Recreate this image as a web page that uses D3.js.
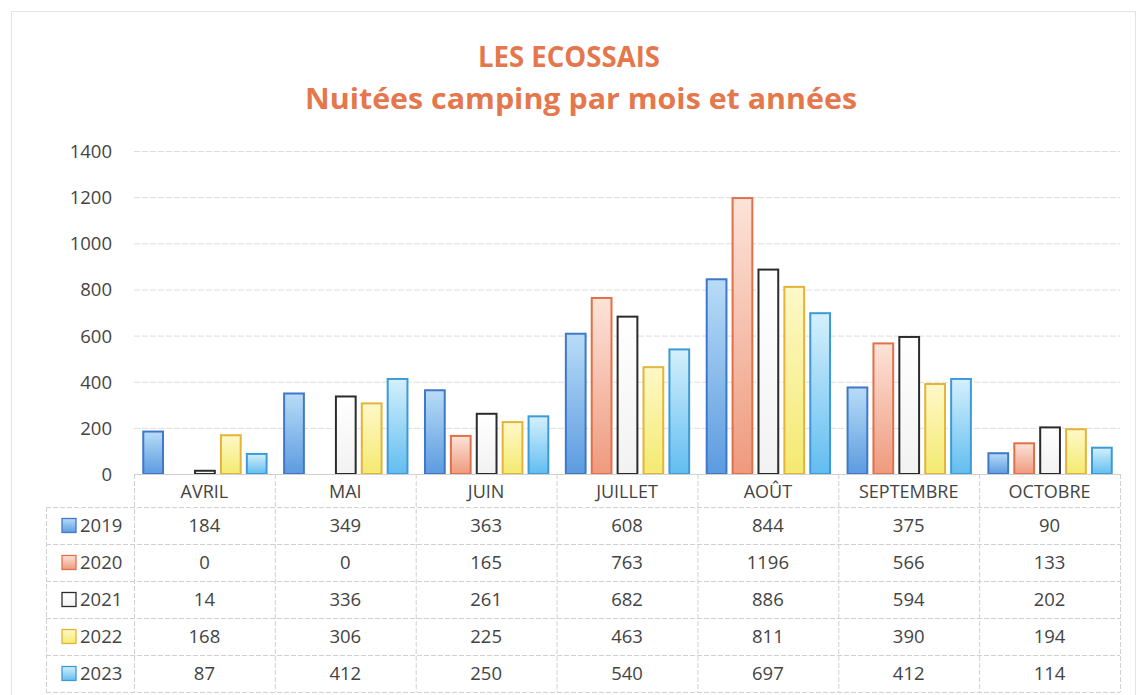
<!DOCTYPE html>
<html><head><meta charset="utf-8">
<script src="https://cdn.jsdelivr.net/npm/d3@7"></script>
<style>
body{margin:0;background:#fff;}
svg{display:block;font-family:"Open Sans","Noto Sans",sans-serif;}
</style></head>
<body><svg id="c" width="1138" height="695"></svg>
<script>
const months = ["AVRIL","MAI","JUIN","JUILLET","AOÛT","SEPTEMBRE","OCTOBRE"];
const years = ["2019","2020","2021","2022","2023"];
const v2019 = [184,349,363,608,844,375,90];
const v2020 = [0,0,165,763,1196,566,133];
const v2021 = [14,336,261,682,886,594,202];
const v2022 = [168,306,225,463,811,390,194];
const v2023 = [87,412,250,540,697,412,114];
const yTicks = [0,200,400,600,800,1000,1200,1400];
const titleLines = ["LES ECOSSAIS","Nuitées camping par mois et années"];

(function(){
const seriesValues = [v2019,v2020,v2021,v2022,v2023];
const styles = [
  {top:"#b8dcf6", bot:"#5c9be0", stroke:"#3f78c8"},
  {top:"#fde3d8", bot:"#ee9a7e", stroke:"#e0704c"},
  {top:"#ffffff", bot:"#f2f2f2", stroke:"#2b2b2b"},
  {top:"#fff8c8", bot:"#f3ea70", stroke:"#e4b43a"},
  {top:"#d4f0fc", bot:"#62bdf0", stroke:"#3d9ad8"}
];
const txt = "#444";

const svg = d3.select("#c");
const W = 1138, H = 695;
const pL = 134, pR = 1120, pT = 151, pB = 474;
const tableLeft = 46, rowH = 37, headerH = 33;

svg.append("rect").attr("x",11.5).attr("y",11.5).attr("width",W-14).attr("height",H-10)
  .attr("fill","none").attr("stroke","#e4e4e4");

const defs = svg.append("defs");
styles.forEach((s,i)=>{
  const g = defs.append("linearGradient").attr("id","g"+i).attr("x1",0).attr("y1",0).attr("x2",0).attr("y2",1);
  g.append("stop").attr("offset","0%").attr("stop-color",s.top);
  g.append("stop").attr("offset","100%").attr("stop-color",s.bot);
});

svg.append("text").attr("x",569).attr("y",67).attr("text-anchor","middle")
  .attr("fill","#e5774d").attr("font-size",28).attr("font-weight","bold")
  .attr("textLength",182).attr("lengthAdjust","spacingAndGlyphs").text(titleLines[0]);
svg.append("text").attr("x",581).attr("y",109).attr("text-anchor","middle")
  .attr("fill","#e5774d").attr("font-size",28).attr("font-weight","bold")
  .attr("textLength",552).attr("lengthAdjust","spacingAndGlyphs").text(titleLines[1]);

const x = d3.scaleBand().domain(months).range([pL,pR]).paddingInner(0).paddingOuter(0);
const x1 = d3.scaleBand().domain(years).range([0,x.bandwidth()]).paddingInner(0.16).paddingOuter(0.3);
const y = d3.scaleLinear().domain([0,1400]).range([pB,pT]);

svg.append("g").selectAll("line").data(yTicks.filter(d=>d>0)).join("line")
  .attr("x1",pL).attr("x2",pR).attr("y1",d=>y(d)+0.5).attr("y2",d=>y(d)+0.5)
  .attr("stroke","#dcdcdc").attr("stroke-dasharray","6,2");

const yAxis = svg.append("g").attr("transform",`translate(${pL},0)`)
  .call(d3.axisLeft(y).tickValues(yTicks).tickFormat(d3.format("d")).tickSize(0).tickPadding(22));
yAxis.select(".domain").remove();
yAxis.selectAll("text").attr("font-size",18.5).attr("fill",txt).attr("font-family","'Open Sans',sans-serif").attr("dy","0.35em");

const groups = svg.append("g").selectAll("g").data(months).join("g")
  .attr("transform",d=>`translate(${x(d)},0)`);
groups.selectAll("rect").data((m,mi)=>years.map((yr,si)=>({yr,si,v:seriesValues[si][mi]}))).join("rect")
  .attr("x",d=>x1(d.yr)+1.5).attr("width",x1.bandwidth()-2)
  .attr("y",d=>y(d.v)).attr("height",d=>Math.max(0,pB-y(d.v)))
  .attr("fill",d=>`url(#g${d.si})`).attr("stroke",d=>styles[d.si].stroke).attr("stroke-width",2)
  .attr("display",d=>d.v>0?null:"none");

const tg = svg.append("g");
const tableBottom = pB + headerH + rowH*years.length;
tg.append("line").attr("x1",pL).attr("x2",pR).attr("y1",pB+0.5).attr("y2",pB+0.5).attr("stroke","#d0d0d0");
for(let r=0;r<=years.length;r++){
  const yy = pB+headerH+r*rowH+0.5;
  tg.append("line").attr("x1",tableLeft).attr("x2",pR).attr("y1",yy).attr("y2",yy)
    .attr("stroke","#d0d0d0").attr("stroke-dasharray","5,2");
}
const vx = months.map(m=>x(m)).concat([pR]);
vx.forEach(xx=>{
  tg.append("line").attr("x1",xx+0.5).attr("x2",xx+0.5).attr("y1",pB).attr("y2",tableBottom)
    .attr("stroke","#d0d0d0").attr("stroke-dasharray","5,2");
});
tg.append("line").attr("x1",tableLeft+0.5).attr("x2",tableLeft+0.5).attr("y1",pB+headerH).attr("y2",tableBottom)
  .attr("stroke","#d0d0d0").attr("stroke-dasharray","5,2");

tg.selectAll("text.h").data(months).join("text").attr("class","h")
  .attr("x",m=>x(m)+x.bandwidth()/2).attr("y",pB+headerH/2+1).attr("dy","0.35em")
  .attr("text-anchor","middle").attr("font-size",18).attr("fill",txt).text(m=>m);

years.forEach((yr,si)=>{
  const cy = pB+headerH+si*rowH+rowH/2;
  tg.append("rect").attr("x",tableLeft+16).attr("y",cy-7).attr("width",14).attr("height",14)
    .attr("fill",`url(#g${si})`).attr("stroke",styles[si].stroke).attr("stroke-width",1.3);
  tg.append("text").attr("x",tableLeft+34).attr("y",cy).attr("dy","0.35em")
    .attr("font-size",18.5).attr("fill",txt).text(yr);
  tg.selectAll(null).data(seriesValues[si]).join("text")
    .attr("x",(d,i)=>x(months[i])+x.bandwidth()/2).attr("y",cy).attr("dy","0.35em")
    .attr("text-anchor","middle").attr("font-size",18.5).attr("fill",txt).text(d=>d);
});
})();
</script></body></html>
